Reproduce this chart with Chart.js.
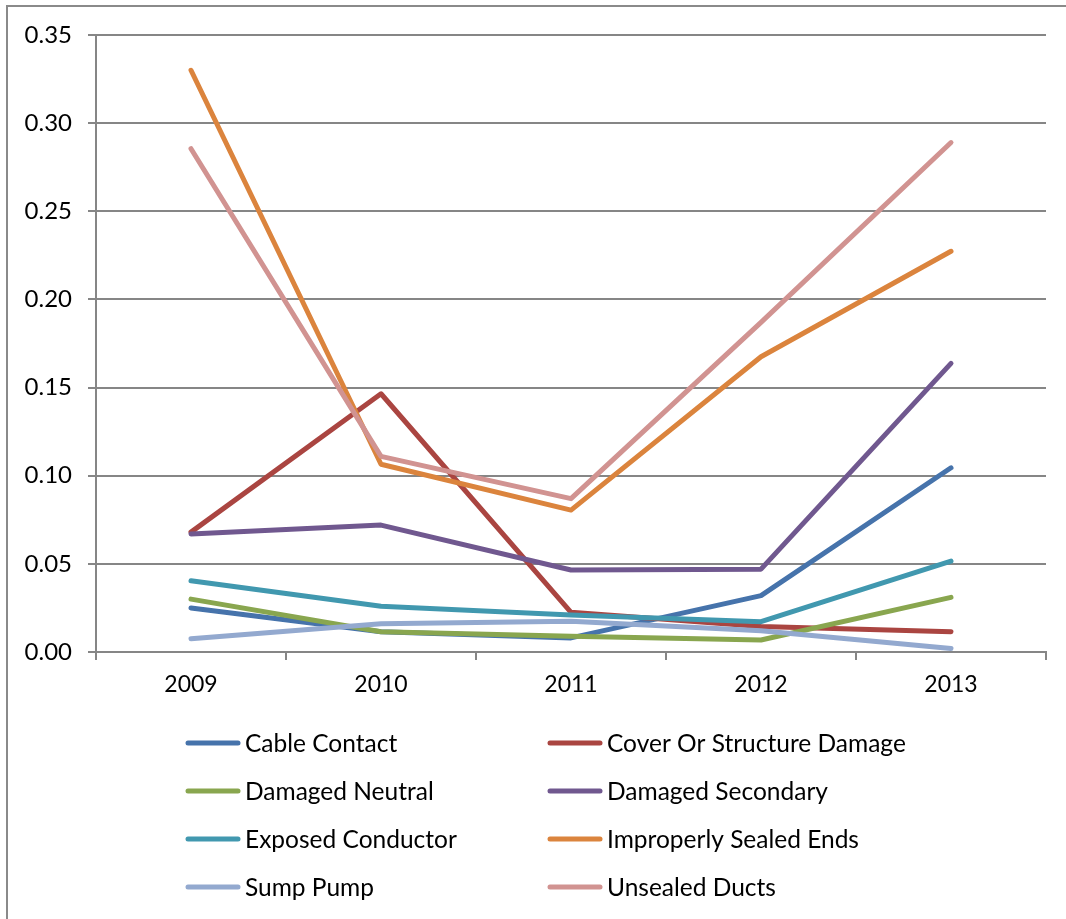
<!DOCTYPE html>
<html>
<head>
<meta charset="utf-8">
<script src="https://cdn.jsdelivr.net/npm/chart.js@4/dist/chart.umd.min.js"></script>
<style>
  html, body { margin: 0; padding: 0; background: #fff; }
  #wrap { width: 1066px; height: 919px; position: relative; }
</style>
</head>
<body>
<div id="wrap"><canvas id="trend-chart"></canvas></div>
<script>
// years on the x axis
const years = ['2009', '2010', '2011', '2012', '2013'];

// rate per year for each failure cause
const cableContact = [0.025, 0.0115, 0.008, 0.032, 0.1045];
const coverDamage = [0.068, 0.1465, 0.0225, 0.0145, 0.0115];
const damagedNeutral = [0.030, 0.0115, 0.009, 0.0068, 0.031];
const damagedSecondary = [0.067, 0.072, 0.0465, 0.047, 0.1637];
const exposedConductor = [0.0404, 0.026, 0.021, 0.0172, 0.0516];
const sealedEnds = [0.330, 0.1065, 0.0805, 0.1675, 0.2273];
const sumpPump = [0.0075, 0.016, 0.0175, 0.012, 0.002];
const unsealedDucts = [0.2855, 0.111, 0.087, 0.187, 0.289];

const seriesNames = [
    'Cable Contact', 'Cover Or Structure Damage',
    'Damaged Neutral', 'Damaged Secondary',
    'Exposed Conductor', 'Improperly Sealed Ends',
    'Sump Pump', 'Unsealed Ducts'
];
const seriesValues = [
    cableContact, coverDamage, damagedNeutral, damagedSecondary,
    exposedConductor, sealedEnds, sumpPump, unsealedDucts
];
const seriesColors = [
    '#4673ab', '#aa4541', '#89a64f', '#70588f',
    '#4198af', '#db843d', '#93a9cf', '#d19391'
];

const yTicks = [0, 0.05, 0.10, 0.15, 0.20, 0.25, 0.30, 0.35];

const textFont = 'Lato, "Open Sans", sans-serif';
const gridGray = '#868686';

// outer frame plus the two-column legend under the plot
const framePlugin = {
    id: 'frameAndLegend',
    beforeDraw(chart) {
        const ctx = chart.ctx;
        ctx.save();
        ctx.strokeStyle = '#8a8a8a';
        ctx.lineWidth = 2;
        ctx.strokeRect(7, 6, 1200, 1200);
        ctx.restore();
    },
    afterDraw(chart) {
        const ctx = chart.ctx;
        const cols = [186, 548];
        const rowTop = 743;
        const rowGap = 48;
        ctx.save();
        ctx.font = '24.5px ' + textFont;
        ctx.textBaseline = 'middle';
        ctx.textAlign = 'left';
        ctx.lineCap = 'round';
        chart.data.datasets.forEach(function (ds, i) {
            const x = cols[i % 2];
            const y = rowTop + Math.floor(i / 2) * rowGap;
            ctx.strokeStyle = ds.borderColor;
            ctx.lineWidth = 5;
            ctx.beginPath();
            ctx.moveTo(x + 2, y);
            ctx.lineTo(x + 52, y);
            ctx.stroke();
            ctx.fillStyle = '#000';
            ctx.fillText(ds.label, x + 59, y + 1);
        });
        ctx.restore();
    }
};

const datasets = seriesNames.map(function (name, i) {
    return {
        label: name,
        data: seriesValues[i],
        borderColor: seriesColors[i],
        backgroundColor: seriesColors[i],
        borderWidth: 5,
        borderCapStyle: 'round',
        borderJoinStyle: 'round',
        pointRadius: 0,
        tension: 0,
        order: seriesNames.length - i
    };
});

new Chart(document.getElementById('trend-chart'), {
    type: 'line',
    data: { labels: years, datasets: datasets },
    options: {
        responsive: true,
        maintainAspectRatio: false,
        animation: false,
        layout: { padding: { top: 35, right: 20, left: 0, bottom: 0 } },
        plugins: {
            legend: { display: false },
            tooltip: { enabled: false }
        },
        scales: {
            x: {
                offset: true,
                grid: {
                    offset: true,
                    drawOnChartArea: false,
                    drawTicks: true,
                    tickLength: 8,
                    color: gridGray,
                    lineWidth: 2
                },
                border: { color: gridGray, width: 2 },
                ticks: {
                    color: '#000',
                    padding: 11,
                    font: { family: textFont, size: 23 }
                },
                afterFit: function (scale) { scale.height = 267; }
            },
            y: {
                min: 0,
                max: 0.35,
                afterBuildTicks: function (scale) {
                    scale.ticks = yTicks.map(function (v) { return { value: v }; });
                },
                grid: {
                    color: gridGray,
                    lineWidth: 2,
                    drawTicks: true,
                    tickLength: 8
                },
                border: { color: gridGray, width: 2 },
                ticks: {
                    color: '#000',
                    padding: 16,
                    font: { family: textFont, size: 24 },
                    callback: function (v) { return Number(v).toFixed(2); }
                },
                afterFit: function (scale) { scale.width = 96; }
            }
        }
    },
    plugins: [framePlugin]
});
</script>
</body>
</html>
